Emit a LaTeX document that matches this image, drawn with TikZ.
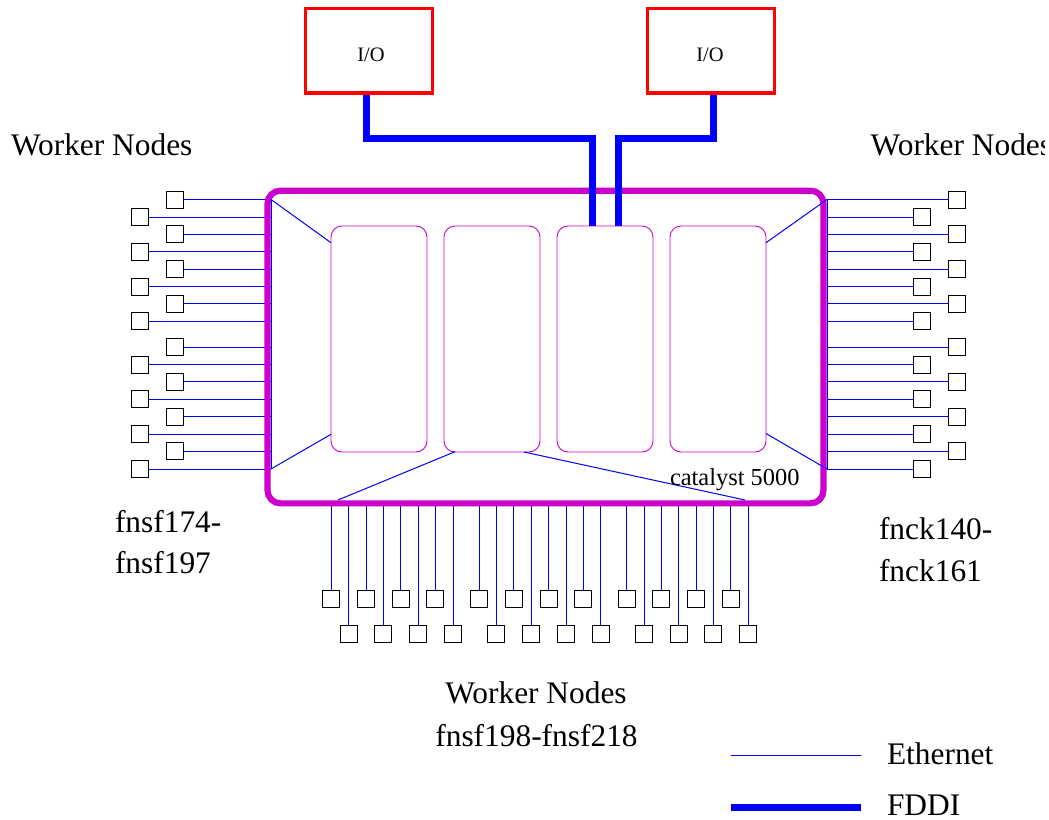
\documentclass[tikz,border=0pt]{standalone}
\usepackage{fontspec}
\setmainfont{Liberation Serif}
\definecolor{catmag}{RGB}{204,0,204}
\definecolor{fddiblue}{RGB}{0,0,255}
\tikzset{
  host/.style={draw=black,line width=1pt,fill=white,minimum width=17pt,minimum height=17pt,inner sep=0pt,outer sep=0pt},
  eth/.style={draw=fddiblue,line width=1pt},
  fddi/.style={draw=fddiblue,line width=7pt},
  iobox/.style={draw=red,line width=3.5pt,minimum width=127pt,minimum height=84.5pt,inner sep=0pt,outer sep=0pt},
  module/.style={draw=catmag,line width=0.9pt,rounded corners=11pt,minimum width=96pt,minimum height=226pt,inner sep=0pt,outer sep=0pt},
  chassis/.style={draw=catmag,line width=6.2pt,rounded corners=13pt,minimum width=556pt,minimum height=312.7pt,inner sep=0pt,outer sep=0pt},
  iotxt/.style={anchor=base,inner sep=0pt,outer sep=0pt,font=\fontsize{20.5pt}{24pt}\selectfont},
  bigtxt/.style={anchor=base west,inner sep=0pt,outer sep=0pt,font=\fontsize{31.4pt}{36pt}\selectfont},
  smalltxt/.style={anchor=base west,inner sep=0pt,outer sep=0pt,font=\fontsize{24.4pt}{28pt}\selectfont}
}
\begin{document}
\begin{tikzpicture}[x=1pt,y=-1pt]
\useasboundingbox (0,0) rectangle (1049,819);
% bus coordinates
\coordinate (busL) at (271,199.5);
\coordinate (busLb) at (271,469);
\coordinate (busR) at (827,199.5);
\coordinate (busRb) at (827,469);
\coordinate (busB) at (338,503);
\coordinate (busBr) at (745,500);
\coordinate (busBl) at (338,500);
% left and right hosts
\foreach \n/\y in {1/199.5,2/234,3/269,4/303.6,5/347,6/381.8,7/416.5,8/451.2}{
  \node[host] (la\n) at (175,\y) {};
  \node[host] (ra\n) at (957,\y) {};
  \draw[eth] (la\n.east) -- (la\n.east -| busL);
  \draw[eth] (ra\n.west) -- (ra\n.west -| busR);
}
\foreach \n/\y in {1/217,2/251.7,3/286.5,4/321,5/364.5,6/399.4,7/434,8/469}{
  \node[host] (lb\n) at (140.4,\y) {};
  \node[host] (rb\n) at (922,\y) {};
  \draw[eth] (lb\n.east) -- (lb\n.east -| busL);
  \draw[eth] (rb\n.west) -- (rb\n.west -| busR);
}
% bottom hosts
\foreach \n/\x in {1/331.3,2/366,3/400.7,4/435.3,5/479,6/513.7,7/548.5,8/583.3,9/626.7,10/661.3,11/696,12/730.7}{
  \node[host] (ba\n) at (\x,599) {};
  \draw[eth] (ba\n.north) -- (ba\n.north |- busB);
}
\foreach \n/\x in {1/348.7,2/383.3,3/418,4/453,5/496.3,6/531,7/566,8/600.7,9/644,10/678.7,11/713.3,12/748.3}{
  \node[host] (bb\n) at (\x,633.8) {};
  \draw[eth] (bb\n.north) -- (bb\n.north |- busB);
}
% vertical buses
\draw[eth] (busL) -- (busLb);
\draw[eth] (busR) -- (busRb);
% chassis
\node[chassis] (cat) at (545.5,347) {};
% modules
\node[module] (m1) at (379,339) {};
\node[module] (m2) at (492,339) {};
\node[module] (m3) at (605,339) {};
\node[module] (m4) at (718,339) {};
% links bus to modules
\coordinate (m1a) at (331,242.7);
\coordinate (m1b) at (331,434.3);
\coordinate (m4a) at (766,242.7);
\coordinate (m4b) at (766,433.5);
\coordinate (m2a) at (455,451.7);
\coordinate (m2b) at (524,452);
\draw[eth] (busL) -- (m1a);
\draw[eth] (busLb) -- (m1b);
\draw[eth] (busR) -- (m4a);
\draw[eth] (busRb) -- (m4b);
\draw[eth] (busBl) -- (m2a);
\draw[eth] (busBr) -- (m2b);
% IO
\node[iobox] (io1) at (369,50.6) {};
\node[iobox] (io2) at (711,50.6) {};
\node[iotxt] (io1t) at (371,61) {I/O};
\node[iotxt] (io2t) at (710,61) {I/O};
% FDDI
\coordinate (f1) at (366.3,95.3);
\coordinate (f2) at (713.7,95.3);
\coordinate (m3l) at (592,226);
\coordinate (m3r) at (618,226);
\draw[fddi,line join=miter] (f1) -- (366.3,138.8) -- (592,138.8) -- (m3l);
\draw[fddi,line join=miter] (f2) -- (713.7,138.8) -- (618,138.8) -- (m3r);
% labels
\node[smalltxt] (catl) at (670,485.7) {catalyst 5000};
\node[bigtxt] (wl) at (11,155) {Worker Nodes};
\begin{scope}
\clip (0,0) rectangle (1044,819);
\node[bigtxt] (wr) at (870.7,155) {Worker Nodes};
\end{scope}
\node[bigtxt] (t1) at (115,532) {fnsf174-};
\node[bigtxt] (t2) at (115,573) {fnsf197};
\node[bigtxt] (t3) at (879,539) {fnck140-};
\node[bigtxt] (t4) at (879,581) {fnck161};
\node[bigtxt,anchor=base] (wb) at (536,703) {Worker Nodes};
\node[bigtxt,anchor=base] (t5) at (536.5,746) {fnsf198-fnsf218};
% legend
\coordinate (le1) at (731,755.5);
\coordinate (le2) at (861,755.5);
\coordinate (lf1) at (731,807);
\coordinate (lf2) at (861,807);
\draw[eth] (le1) -- (le2);
\draw[fddi] (lf1) -- (lf2);
\node[bigtxt] (le) at (887,764) {Ethernet};
\node[bigtxt] (lf) at (887,815.7) {FDDI};
\end{tikzpicture}
\end{document}
